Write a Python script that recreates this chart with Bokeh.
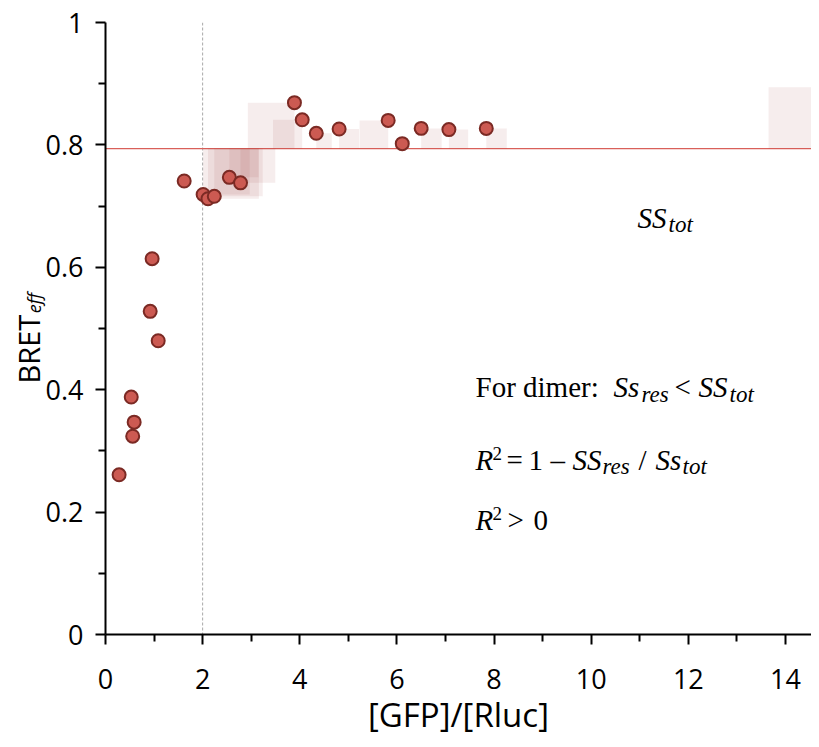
import math
from bokeh.plotting import figure
from bokeh.models import Span, Label, FixedTicker, Title
from bokeh.embed import file_html
from bokeh.resources import INLINE

# ---------------- data ----------------
gfp_rluc = [0.28, 0.53, 0.56, 0.59, 0.92, 0.96, 1.085, 1.62, 2.01, 2.11, 2.24,
            2.55, 2.78, 3.89, 4.05, 4.34, 4.81, 5.82, 6.11, 6.50, 7.07, 7.84, 14.93]
bret_eff = [0.261, 0.388, 0.324, 0.347, 0.528, 0.614, 0.480, 0.741, 0.719, 0.712, 0.716,
            0.747, 0.738, 0.869, 0.841, 0.819, 0.826, 0.840, 0.802, 0.827, 0.825, 0.827, 0.894]
# side of the residual square drawn for each point (+1 right, -1 left, 0 none)
square_direction = [0, 0, 0, 0, 0, 0, 0, 0, 1, 1, 1,
                    1, 1, -1, -1, 1, 1, -1, 1, 1, 1, 1, -1]
plateau = 0.794
threshold = 2
x_ticks = [0, 2, 4, 6, 8, 10, 12, 14]
x_minor = [1, 3, 5, 7, 9, 11, 13]
y_ticks = [0, 0.2, 0.4, 0.6, 0.8, 1]
y_minor = [0.1, 0.3, 0.5, 0.7, 0.9]

# ---------------- layout ----------------
W, H = 811, 739
BL, BR, BT, BB = 105, 0, 22, 96
frame_w = W - BL - BR
frame_h = H - BT - BB
UNIT_PX = 48.57
X_RANGE = (0, frame_w / UNIT_PX)
Y_RANGE = (0, 1)
px_x = frame_w / (X_RANGE[1] - X_RANGE[0])
px_y = frame_h / (Y_RANGE[1] - Y_RANGE[0])
FL, FT = BL, BT
FB = BT + frame_h


def dx(px):
    return X_RANGE[0] + (px - FL) / px_x


def dy(py):
    return Y_RANGE[1] - (py - FT) / px_y


p = figure(width=W, height=H, x_range=X_RANGE, y_range=Y_RANGE,
           output_backend="svg", toolbar_location=None,
           min_border_left=BL, min_border_right=BR, min_border_top=BT, min_border_bottom=BB)
p.outline_line_color = None
p.grid.visible = False
p.background_fill_color = "white"
p.border_fill_color = "white"

# residual squares
lefts, rights, tops, bottoms = [], [], [], []
for x, y, d in zip(gfp_rluc, bret_eff, square_direction):
    if d == 0:
        continue
    side_y = abs(y - plateau)
    side_x = side_y * px_y / px_x
    if d > 0:
        lefts.append(x); rights.append(x + side_x)
    else:
        lefts.append(x - side_x); rights.append(x)
    tops.append(max(y, plateau)); bottoms.append(min(y, plateau))

p.quad(left=lefts, right=rights, top=tops, bottom=bottoms,
       fill_color="#a03232", fill_alpha=0.09, line_color=None)

p.add_layout(Span(location=threshold, dimension="height", line_color="#a8a8a8",
                  line_width=1, line_dash="3 2", level="underlay"))
p.add_layout(Span(location=plateau, dimension="width", line_color="#d9605a",
                  line_width=1.3, level="underlay"))

p.scatter(gfp_rluc, bret_eff, size=13, fill_color="#cc5a52",
          line_color="#7b2a24", line_width=2)

# axes
for ax in (p.xaxis[0], p.yaxis[0]):
    ax.axis_line_width = 2
    ax.axis_line_color = "black"
    ax.major_tick_line_width = 2
    ax.minor_tick_line_width = 2
    ax.major_tick_out = 10
    ax.major_tick_in = 0
    ax.minor_tick_out = 7
    ax.minor_tick_in = 0
    ax.major_label_text_font = "Open Sans"
    ax.major_label_text_font_size = "27px"
    ax.major_label_text_color = "black"

p.xaxis.ticker = FixedTicker(ticks=x_ticks, minor_ticks=x_minor)
p.yaxis.ticker = FixedTicker(ticks=y_ticks, minor_ticks=y_minor)
p.yaxis.major_label_overrides = {t: f"{t:g}" for t in y_ticks}
p.xaxis.major_label_standoff = 24
p.yaxis.major_label_standoff = 12
p.xaxis.axis_label = "[GFP]/[Rluc]"
p.xaxis.axis_label_text_font = "Open Sans"
p.xaxis.axis_label_text_font_size = "33px"
p.xaxis.axis_label_text_font_style = "normal"
p.xaxis.axis_label_text_color = "black"
p.xaxis.axis_label_standoff = 0

# y axis title BRET_eff: subscript as the axis label (padded so it sits above centre),
# "BRET" as a side title just outside it
p.yaxis.axis_label = "\u2003\u2003\u2002\u2009\u2009eff"
p.yaxis.axis_label_text_font = "Open Sans"
p.yaxis.axis_label_text_font_size = "18px"
p.yaxis.axis_label_text_font_style = "italic"
p.yaxis.axis_label_text_color = "black"
p.yaxis.axis_label_standoff = -3

p.add_layout(Title(text="BRET", align="left", offset=FB - 392, standoff=-58,
                   text_font="Open Sans", text_font_size="29px", text_font_style="normal",
                   text_color="black"), "left")

SERIF = "Liberation Serif"
SHIFT = 9


def word(px, py, s, size, style="normal"):
    p.add_layout(Label(x=dx(px), y=dy(py - SHIFT), text=s, text_font=SERIF,
                       text_font_size=f"{size}px", text_font_style=style,
                       text_color="black", text_align="left", text_baseline="alphabetic"))


M, S, SUP = 29, 23, 19
# SS_tot
word(637, 229, "SS", M, "italic")
word(668, 236, "tot", S, "italic")
# line 1
word(475, 401, "For dimer:", M)
word(613, 401, "Ss", M, "italic")
word(641, 408, "res", S, "italic")
word(674, 401, "<", M)
word(698, 401, "SS", M, "italic")
word(729, 408, "tot", S, "italic")
# line 2
word(475, 475, "R", M, "italic")
word(492, 468, "2", SUP)
word(506, 475, "=", M)
word(528, 475, "1", M)
word(550, 475, "\u2013", M)
word(572, 475, "SS", M, "italic")
word(602, 482, "res", S, "italic")
word(638, 475, "/", M)
word(655, 475, "Ss", M, "italic")
word(682, 482, "tot", S, "italic")
# line 3
word(475, 536, "R", M, "italic")
word(492, 529, "2", SUP)
word(507, 536, ">", M)
word(533, 536, "0", M)

open("out.html", "w").write(file_html(p, INLINE))
